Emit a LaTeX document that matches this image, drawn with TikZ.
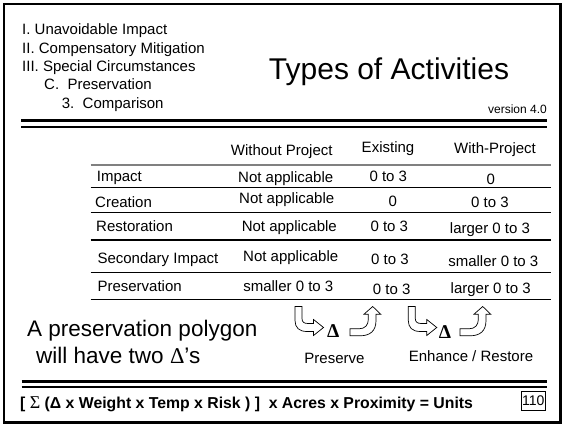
\documentclass[tikz,border=0pt]{standalone}
\usepackage{fontspec}
\setmainfont{Liberation Sans}
\newfontfamily\symfont{Liberation Serif}
\begin{document}
\begin{tikzpicture}[x=1pt,y=-1pt,inner sep=0pt,
  listtxt/.style={anchor=base west,font=\fontsize{15}{18}\selectfont},
  cell/.style={anchor=base,font=\fontsize{15}{18}\selectfont},
  rowlbl/.style={anchor=base west,font=\fontsize{15}{18}\selectfont},
  rule/.style={line width=1.5pt},
  thickrule/.style={line width=3pt},
  thinrule/.style={line width=2pt},
  arrowline/.style={draw=black,line width=0.7pt,fill=white,line join=miter},
  deltasym/.style={font=\symfont\bfseries\fontsize{19.5}{19.5}\selectfont},
  arrowdown/.pic={
    \path[arrowline] (0,0) -- (7,0) -- (7,12) .. controls (7,15.5) and (9,17) .. (13,17)
      -- (18.5,17) -- (18.5,13) -- (28.5,21) -- (18.5,29) -- (18.5,25) -- (12,25)
      .. controls (4,25) and (0,21) .. (0,14) -- cycle;
  },
  arrowup/.pic={
    \path[arrowline] (0,22.3) -- (9,22.3) .. controls (15,22.3) and (18.3,18.5) .. (18.3,13)
      -- (18.3,7.7) -- (14,7.7) -- (22.7,0) -- (30.7,7.7) -- (26,7.7) -- (26,14)
      .. controls (26,24.5) and (20,29.3) .. (10,29.3) -- (0,29.3) -- cycle;
  }]
\useasboundingbox (0,0) rectangle (564,427);
% frame
\draw[line width=2.3pt] (4,4) rectangle (560.5,422.5);
% top-left outline
\node[listtxt] (l1) at (22,35) {I. Unavoidable Impact};
\node[listtxt] (l2) at (22,53.3) {II. Compensatory Mitigation};
\node[listtxt] (l3) at (22,71.6) {III. Special Circumstances};
\node[listtxt] (l4) at (44,90) {C.\ \ Preservation};
\node[listtxt] (l5) at (61.7,108.3) {3.\ \ Comparison};
% title
\node[anchor=base,font=\fontsize{30}{30}\selectfont] (title) at (389,79.3) {Types of Activities};
\node[anchor=base east,font=\fontsize{12}{12}\selectfont] (ver) at (547,114) {version 4.0};
% double rules
\coordinate (tl1) at (21,120.3); \coordinate (tr1) at (547,120.3);
\coordinate (tl2) at (21,126.7); \coordinate (tr2) at (547,126.7);
\draw[thickrule] (tl1) -- (tr1);
\draw[thinrule] (tl2) -- (tr2);
% header
\node[cell] (hwo) at (281.7,156) {Without Project};
\node[cell] (hex) at (388,152.3) {Existing};
\node[cell] (hwi) at (495,153.3) {With-Project};
% table rules
\foreach \yy/\cc in {165/gray,187.3/black,212.3/black,240/black,272.3/black,299.3/black}{
  \draw[rule,draw=\cc] (90.7,\yy) -- (550.7,\yy);
}
% rows
\node[rowlbl] (r1) at (96.7,181.7) {Impact};
\node[cell] (r1a) at (285.7,182.3) {Not applicable};
\node[cell] (r1b) at (388.3,181.7) {0 to 3};
\node[cell] (r1c) at (490.7,184.3) {0};
\node[rowlbl] (r2) at (95,207.3) {Creation};
\node[cell] (r2a) at (286.7,204) {Not applicable};
\node[cell] (r2b) at (392.7,206.7) {0};
\node[cell] (r2c) at (490,207.7) {0 to 3};
\node[rowlbl] (r3) at (96,231.7) {Restoration};
\node[cell] (r3a) at (289.3,231.7) {Not applicable};
\node[cell] (r3b) at (389.3,231.7) {0 to 3};
\node[cell] (r3c) at (490,234) {larger 0 to 3};
\node[rowlbl] (r4) at (97.3,263.3) {Secondary Impact};
\node[cell] (r4a) at (290.7,261.7) {Not applicable};
\node[cell] (r4b) at (390,264.3) {0 to 3};
\node[cell] (r4c) at (493.3,266) {smaller 0 to 3};
\node[rowlbl] (r5) at (97.3,291) {Preservation};
\node[cell] (r5a) at (288.3,291) {smaller 0 to 3};
\node[cell] (r5b) at (391.7,294.3) {0 to 3};
\node[cell] (r5c) at (490.7,293.3) {larger 0 to 3};
% bottom text
\node[anchor=base west,font=\fontsize{22.5}{24}\selectfont] (poly1) at (27,336.8) {A preservation polygon};
\node[anchor=base west,font=\fontsize{22.5}{24}\selectfont] (poly2) at (36,363.7) {will have two {\symfont Δ}’s};
% arrows and deltas
\pic (a1) at (295,306.5) {arrowdown};
\node[deltasym] (d1) at (333.3,331) {Δ};
\pic (a2) at (350,306.5) {arrowup};
\pic (a3) at (408.3,306.5) {arrowdown};
\node[deltasym] (d2) at (445,332.5) {Δ};
\pic (a4) at (460,306.5) {arrowup};
\node[cell] (pres) at (334.5,363) {Preserve};
\node[cell] (enh) at (471,361.5) {Enhance / Restore};
% bottom double rule
\coordinate (bl1) at (21.7,381); \coordinate (br1) at (546.7,381);
\coordinate (bl2) at (21.7,386.5); \coordinate (br2) at (546.7,386.5);
\draw[thickrule] (bl1) -- (br1);
\draw[thinrule] (bl2) -- (br2);
% formula
\node[anchor=base west,font=\bfseries\fontsize{15.8}{16}\selectfont] (formula) at (20,408)
  {[ {\symfont\mdseries\fontsize{18}{18}\selectfont Σ} (Δ x Weight x Temp x Risk ) ]\ \ x Acres x Proximity = Units};
\node[draw,line width=0.9pt,minimum width=23.3pt,minimum height=19pt,font=\fontsize{14}{14}\selectfont] (pg) at (533.3,400.5) {110};
\end{tikzpicture}
\end{document}
